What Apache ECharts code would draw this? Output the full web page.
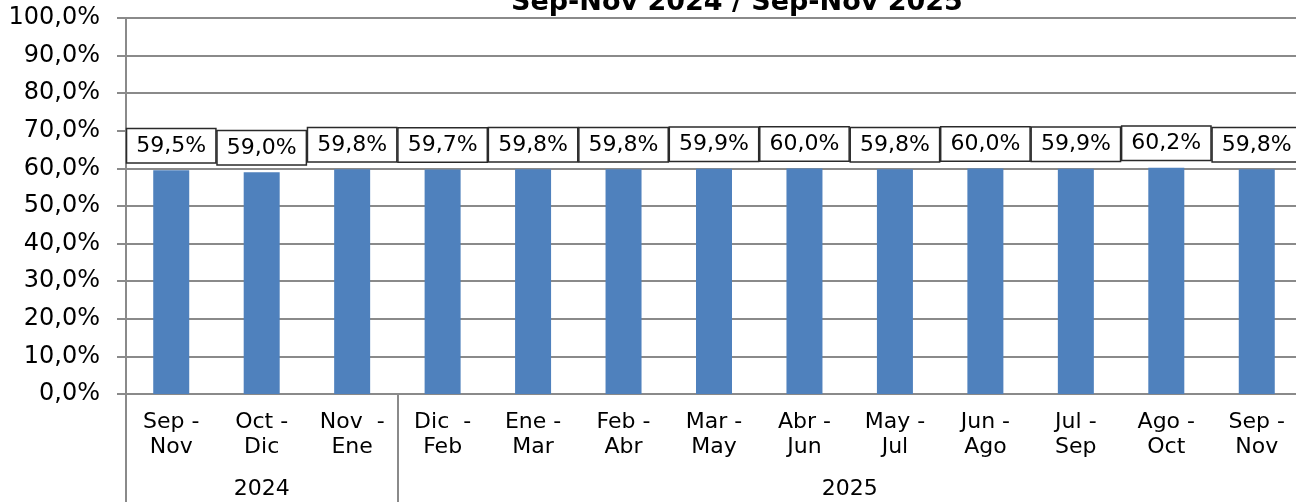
<!DOCTYPE html>
<html>
<head>
<meta charset="utf-8">
<script src="https://cdn.jsdelivr.net/npm/echarts@6/dist/echarts.min.js"></script>
<style>
  html, body { margin: 0; padding: 0; background: #fff; }
  #chart { width: 1296px; height: 502px; }
</style>
</head>
<body>
<div id="chart"></div>
<script>
// periodos moviles de tres meses
var periodos = ['Sep -\nNov', 'Oct -\nDic', 'Nov  -\nEne', 'Dic  -\nFeb', 'Ene -\nMar', 'Feb -\nAbr', 'Mar -\nMay',
  'Abr -\nJun', 'May -\nJul', 'Jun -\nAgo', 'Jul -\nSep', 'Ago -\nOct', 'Sep -\nNov'];
var tasas = [59.5, 59.0, 59.8, 59.7, 59.8, 59.8, 59.9, 60.0, 59.8, 60.0, 59.9, 60.2, 59.8];
// años y cuantos periodos abarca cada uno
var anios = ['2024', '2025'];
var periodosPorAnio = [3, 10];

var fuente = 'DejaVu Sans, Verdana, sans-serif';
var gris = '#8a8a8a';

function pct(v) {
  return v.toFixed(1).replace('.', ',') + '%';
}

// límites y centros de los grupos de años
var limites = [0];
var centros = [];
periodosPorAnio.forEach(function (n, i) {
  centros.push(limites[i] + n / 2);
  limites.push(limites[i] + n);
});

var chart = echarts.init(document.getElementById('chart'));

var option = {
  animation: false,
  title: {
    text: 'Sep-Nov 2024 / Sep-Nov 2025',
    left: 511,
    top: -11,
    padding: 0,
    textStyle: { fontFamily: fuente, fontSize: 27, fontWeight: 'bold', color: '#000' }
  },
  // el gráfico original sigue un poco más allá del borde derecho
  grid: { left: 126, top: 18, width: 1176, height: 376, outerBoundsMode: 'none' },
  xAxis: [{
    type: 'category',
    data: periodos,
    axisLine: { lineStyle: { color: gris, width: 2 } },
    axisTick: { length: 68, lineStyle: { color: gris, width: 2 } },
    axisLabel: {
      interval: 0, margin: 16, lineHeight: 25,
      fontFamily: fuente, fontSize: 22, color: '#000'
    }
  }, {
    type: 'value',
    min: 0,
    max: periodos.length,
    position: 'bottom',
    axisLine: { show: false },
    splitLine: { show: false },
    axisTick: { customValues: limites, length: 112, lineStyle: { color: gris, width: 2 } },
    axisLabel: {
      customValues: centros,
      margin: 84,
      fontFamily: fuente, fontSize: 22, color: '#000',
      formatter: function (v) { return anios[centros.indexOf(v)]; }
    }
  }],
  yAxis: {
    type: 'value',
    min: 0,
    max: 100,
    interval: 10,
    axisLine: { show: true, lineStyle: { color: gris, width: 2 } },
    axisTick: { show: true, length: 9, lineStyle: { color: gris, width: 2 } },
    splitLine: { lineStyle: { color: gris, width: 2 } },
    axisLabel: {
      margin: 26, fontFamily: fuente, fontSize: 24, color: '#000',
      formatter: pct
    }
  },
  series: [{
    type: 'bar',
    data: tasas,
    barWidth: 36,
    itemStyle: { color: '#4F81BD' },
    label: {
      show: true,
      position: 'top',
      distance: 8,
      fontFamily: fuente,
      fontSize: 22,
      color: '#000',
      backgroundColor: '#fff',
      borderColor: '#2a2a2a',
      borderWidth: 1.5,
      padding: [6, 9, 5, 9],
      formatter: function (p) { return pct(p.value); }
    }
  }]
};

chart.setOption(option);
</script>
</body>
</html>
